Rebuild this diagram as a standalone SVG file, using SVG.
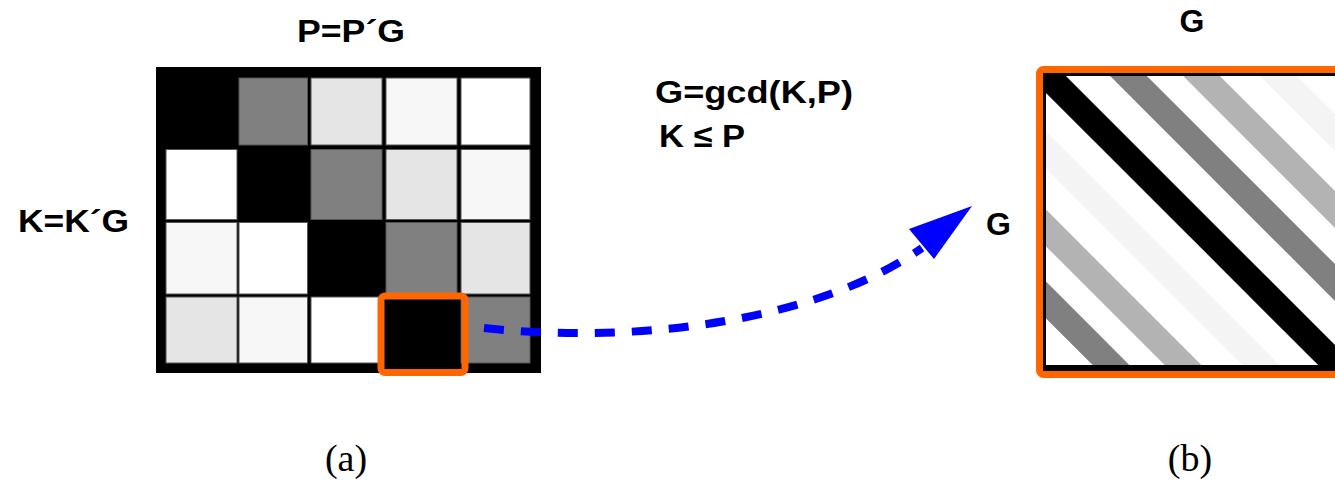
<svg xmlns="http://www.w3.org/2000/svg" width="1335" height="481" viewBox="0 0 1335 481">
  <style>
    .lbl { font-family: "Liberation Sans", Arial, sans-serif; font-weight: bold; font-size: 32px; fill: #000; }
    .cap { font-family: "Liberation Serif", "Times New Roman", serif; font-size: 38px; fill: #000; }
    .cell { stroke: #555; stroke-width: 1; }
    .k { fill: #000; stroke: #000; }
    .g { fill: #808080; }
    .l { fill: #e5e5e5; }
    .v { fill: #f7f7f7; }
    .w { fill: #fff; }
    .stripe { stroke-width: 26; fill: none; }
    .hl { fill: none; stroke: #ff6600; stroke-width: 7; }
    .conn { fill: none; stroke: #0000ff; stroke-width: 8; stroke-dasharray: 20 17; }
  </style>
  <defs>
    <clipPath id="clipB">
      <rect x="1046" y="76" width="300" height="289"/>
    </clipPath>
  </defs>
  <rect width="1335" height="481" fill="#fff"/>

  <g id="label-top-a">
    <text class="lbl" x="297" y="42" textLength="108" lengthAdjust="spacingAndGlyphs">P=P´G</text>
  </g>
  <g id="label-left-a">
    <text class="lbl" x="18" y="232" textLength="111" lengthAdjust="spacingAndGlyphs">K=K´G</text>
  </g>
  <g id="formula">
    <text class="lbl" x="655" y="103" textLength="198" lengthAdjust="spacingAndGlyphs">G=gcd(K,P)</text>
    <text class="lbl" x="659" y="147" textLength="86" lengthAdjust="spacingAndGlyphs">K ≤ P</text>
  </g>

  <g id="matrix-a">
    <rect x="156" y="67" width="385" height="306" fill="#000"/>
    <!-- row 1 -->
    <rect class="cell k" x="166" y="78" width="71" height="67"/>
    <rect class="cell g" x="239" y="78" width="68.5" height="67"/>
    <rect class="cell l" x="311" y="78" width="71" height="67"/>
    <rect class="cell v" x="386" y="78" width="71" height="67"/>
    <rect class="cell w" x="461" y="78" width="69" height="67"/>
    <!-- row 2 -->
    <rect class="cell w" x="166" y="149.5" width="71" height="70"/>
    <rect class="cell k" x="239" y="149.5" width="68.5" height="70"/>
    <rect class="cell g" x="311" y="149.5" width="71" height="70"/>
    <rect class="cell l" x="386" y="149.5" width="71" height="70"/>
    <rect class="cell v" x="461" y="149.5" width="69" height="70"/>
    <!-- row 3 -->
    <rect class="cell v" x="166" y="222.5" width="71" height="71.5"/>
    <rect class="cell w" x="239" y="222.5" width="68.5" height="71.5"/>
    <rect class="cell k" x="311" y="222.5" width="71" height="71.5"/>
    <rect class="cell g" x="386" y="222.5" width="71" height="71.5"/>
    <rect class="cell l" x="461" y="222.5" width="69" height="71.5"/>
    <!-- row 4 -->
    <rect class="cell l" x="166" y="297" width="71" height="66"/>
    <rect class="cell v" x="239" y="297" width="68.5" height="66"/>
    <rect class="cell w" x="311" y="297" width="71" height="66"/>
    <rect class="cell k" x="386" y="297" width="71" height="66"/>
    <rect class="cell g" x="461" y="297" width="69" height="66"/>
  </g>

  <g id="highlight-a">
    <rect class="hl" x="381" y="296" width="84" height="76.5" rx="4"/>
  </g>

  <g id="connectors">
    <path class="conn" d="M 484 328 C 640 345, 820 320, 922 248"/>
    <polygon points="972,206 909,229 934,259" fill="#0000ff"/>
  </g>

  <g id="label-top-b">
    <text class="lbl" x="1192" y="32" text-anchor="middle">G</text>
  </g>
  <g id="label-left-b">
    <text class="lbl" x="986" y="235">G</text>
  </g>

  <g id="matrix-b">
    <rect x="1043" y="73" width="300" height="299" fill="#000"/>
    <rect x="1046" y="76" width="300" height="289" fill="#fff"/>
    <g clip-path="url(#clipB)">
      <line class="stripe" stroke="#f4f4f4" x1="1252.5" y1="50" x2="1652.5" y2="450"/>
      <line class="stripe" stroke="#b3b3b3" x1="1175.5" y1="50" x2="1575.5" y2="450"/>
      <line class="stripe" stroke="#808080" x1="1102.5" y1="50" x2="1502.5" y2="450"/>
      <line class="stripe" stroke="#000000" x1="1021.5" y1="50" x2="1421.5" y2="450"/>
      <line class="stripe" stroke="#f4f4f4" x1="946" y1="50" x2="1346" y2="450"/>
      <line class="stripe" stroke="#b3b3b3" x1="868" y1="50" x2="1268" y2="450"/>
      <line class="stripe" stroke="#808080" x1="796" y1="50" x2="1196" y2="450"/>
    </g>
    <rect class="hl" x="1039.5" y="69.5" width="310" height="305" rx="4"/>
  </g>

  <g id="captions">
    <text class="cap" x="346" y="471" text-anchor="middle">(a)</text>
    <text class="cap" x="1190" y="471" text-anchor="middle">(b)</text>
  </g>
</svg>
